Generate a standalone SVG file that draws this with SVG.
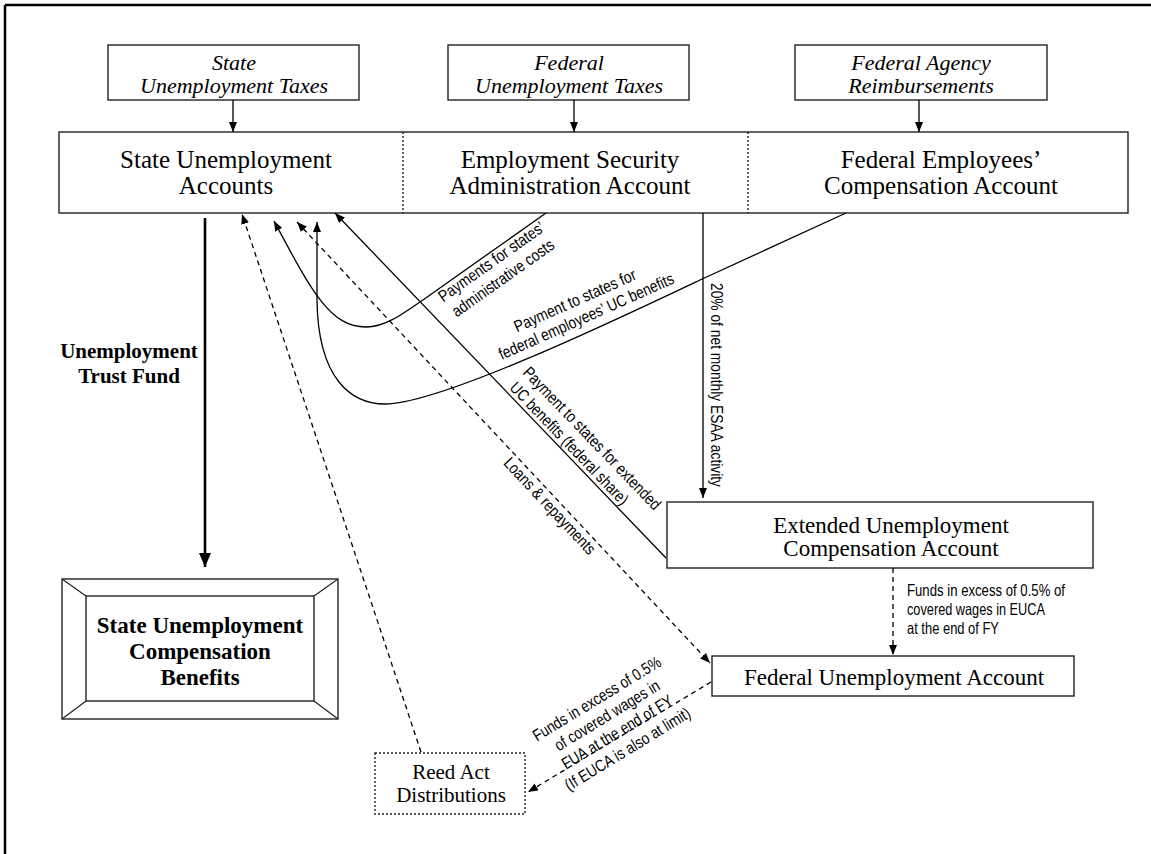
<svg xmlns="http://www.w3.org/2000/svg" width="1151" height="854" viewBox="0 0 1151 854">
<style>
.box{fill:#fff;stroke:#222;stroke-width:1.4}
.ln{fill:none;stroke:#000;stroke-width:1.3}
.dash{fill:none;stroke:#000;stroke-width:1.3;stroke-dasharray:5,4}
.dot{fill:none;stroke:#222;stroke-width:1.4;stroke-dasharray:2,2}
.serif{font-family:"Liberation Serif","Times New Roman",serif;fill:#000}
.ital{font-family:"Liberation Serif","Times New Roman",serif;font-style:italic;font-size:22px;fill:#000}
.bold{font-family:"Liberation Serif","Times New Roman",serif;font-weight:bold;fill:#000}
.lbl{font-family:"Liberation Sans Narrow","Liberation Sans",Arial,sans-serif;font-size:16.5px;fill:#000}
</style>
<defs>
<marker id="ah" viewBox="0 0 10 8" refX="10" refY="4" markerWidth="10" markerHeight="8" markerUnits="userSpaceOnUse" orient="auto-start-reverse"><path d="M0,0 L10,4 L0,8 z" fill="#000"/></marker>
<marker id="ahBig" viewBox="0 0 14 12" refX="14" refY="6" markerWidth="14" markerHeight="12" markerUnits="userSpaceOnUse" orient="auto"><path d="M0,0 L14,6 L0,12 z" fill="#000"/></marker>
</defs>
<rect x="0" y="0" width="1151" height="854" fill="#fff"/>
<g id="frame"><path d="M5,5 H1151 M5,5 V854" fill="none" stroke="#000" stroke-width="2.5"/></g>

<g id="src-state">
<rect class="box" x="108" y="45" width="251" height="55"/>
<text class="ital" x="234" y="70" text-anchor="middle">State</text>
<text class="ital" x="234" y="93" text-anchor="middle">Unemployment Taxes</text>
</g>
<g id="src-federal">
<rect class="box" x="448" y="45" width="241" height="55"/>
<text class="ital" x="569" y="70" text-anchor="middle">Federal</text>
<text class="ital" x="569" y="93" text-anchor="middle">Unemployment Taxes</text>
</g>
<g id="src-agency">
<rect class="box" x="795" y="45" width="252" height="55"/>
<text class="ital" x="921" y="70" text-anchor="middle">Federal Agency</text>
<text class="ital" x="921" y="93" text-anchor="middle">Reimbursements</text>
</g>

<g id="trust-accounts">
<rect class="box" x="59" y="132" width="1069" height="81"/>
<line class="dot" x1="403" y1="132" x2="403" y2="213"/>
<line class="dot" x1="748" y1="132" x2="748" y2="213"/>
<text class="serif" font-size="25" x="226" y="168" text-anchor="middle">State Unemployment</text>
<text class="serif" font-size="25" x="226" y="194" text-anchor="middle">Accounts</text>
<text class="serif" font-size="25" x="570" y="168" text-anchor="middle">Employment Security</text>
<text class="serif" font-size="25" x="570" y="194" text-anchor="middle">Administration Account</text>
<text class="serif" font-size="25" x="941" y="168" text-anchor="middle">Federal Employees’</text>
<text class="serif" font-size="25" x="941" y="194" text-anchor="middle">Compensation Account</text>
</g>

<g id="utf-label">
<text class="bold" font-size="21" x="129" y="358" text-anchor="middle">Unemployment</text>
<text class="bold" font-size="21" x="129" y="383" text-anchor="middle">Trust Fund</text>
</g>

<g id="benefits">
<rect x="62" y="579" width="276" height="140" fill="#fff" stroke="#222" stroke-width="1.4"/>
<rect x="86" y="596" width="228" height="105" fill="none" stroke="#222" stroke-width="1.4"/>
<path d="M62,579 L86,596 M338,579 L314,596 M62,719 L86,701 M338,719 L314,701" fill="none" stroke="#222" stroke-width="1.2"/>
<text class="bold" font-size="23" x="200" y="633" text-anchor="middle">State Unemployment</text>
<text class="bold" font-size="23" x="200" y="659" text-anchor="middle">Compensation</text>
<text class="bold" font-size="23" x="200" y="685" text-anchor="middle">Benefits</text>
</g>

<g id="euca">
<rect class="box" x="667" y="502" width="426" height="66"/>
<text class="serif" font-size="23" x="891" y="533" text-anchor="middle">Extended Unemployment</text>
<text class="serif" font-size="23" x="891" y="556" text-anchor="middle">Compensation Account</text>
</g>

<g id="fua">
<rect class="box" x="712" y="656" width="362" height="40"/>
<text class="serif" font-size="23" x="894" y="685" text-anchor="middle">Federal Unemployment Account</text>
</g>

<g id="reed">
<rect class="dot" x="375" y="753" width="150" height="61" fill="#fff"/>
<text class="serif" font-size="21" x="451" y="779" text-anchor="middle">Reed Act</text>
<text class="serif" font-size="21" x="451" y="802" text-anchor="middle">Distributions</text>
</g>

<g id="connectors">
<line class="ln" x1="233" y1="100" x2="233" y2="132" marker-end="url(#ah)"/>
<line class="ln" x1="574" y1="100" x2="574" y2="132" marker-end="url(#ah)"/>
<line class="ln" x1="919" y1="100" x2="919" y2="132" marker-end="url(#ah)"/>
<line x1="205" y1="218" x2="205" y2="567" stroke="#000" stroke-width="2.6" marker-end="url(#ahBig)"/>
<path class="ln" d="M546,213 L430,295 C400,316 385,327 366,327 C330,327 312,292 274,221" marker-end="url(#ah)"/>
<path class="ln" d="M846,213 L700,280 C620,318 440,404 385,404 C352,404 318,380 317,300 L317,222" marker-end="url(#ah)"/>
<line class="ln" x1="666" y1="558" x2="335" y2="213" marker-end="url(#ah)"/>
<line class="ln" x1="703" y1="213" x2="703" y2="498" marker-end="url(#ah)"/>
<line class="dash" x1="297" y1="222" x2="710" y2="663" marker-start="url(#ah)" marker-end="url(#ah)"/>
<line class="dash" x1="421" y1="752" x2="242" y2="214" marker-end="url(#ah)"/>
<line class="dash" x1="893" y1="568" x2="893" y2="655" marker-end="url(#ah)"/>
<line class="dash" x1="711" y1="682" x2="528" y2="792" marker-end="url(#ah)"/>
</g>

<g id="labels">
<g transform="translate(540,217) rotate(-35.3)">
<text class="lbl" x="-65.5" y="14" text-anchor="middle" textLength="126" lengthAdjust="spacingAndGlyphs">Payments for states’</text>
<text class="lbl" x="-65.5" y="34" text-anchor="middle" textLength="121" lengthAdjust="spacingAndGlyphs">administrative costs</text>
</g>
<g transform="translate(490,373) rotate(-24)">
<text class="lbl" x="107" y="-26" text-anchor="middle" textLength="132" lengthAdjust="spacingAndGlyphs">Payment to states for</text>
<text class="lbl" x="111" y="-7" text-anchor="middle" textLength="190" lengthAdjust="spacingAndGlyphs">federal employees’ UC benefits</text>
</g>
<g transform="translate(335,213) rotate(46.2)">
<text class="lbl" x="245" y="-24" textLength="191" lengthAdjust="spacingAndGlyphs">Payment to states for extended</text>
<text class="lbl" x="247" y="-4" textLength="163" lengthAdjust="spacingAndGlyphs">UC benefits (federal share)</text>
</g>
<g transform="translate(297,222) rotate(46.9)">
<text class="lbl" x="317" y="15" textLength="126" lengthAdjust="spacingAndGlyphs">Loans &amp; repayments</text>
</g>
<text class="lbl" transform="translate(711,385) rotate(90)" x="0" y="0" text-anchor="middle" textLength="204" lengthAdjust="spacingAndGlyphs">20% of net monthly ESAA activity</text>
<text class="lbl" x="907" y="596" textLength="158" lengthAdjust="spacingAndGlyphs">Funds in excess of 0.5% of</text>
<text class="lbl" x="907" y="615" textLength="138" lengthAdjust="spacingAndGlyphs">covered wages in EUCA</text>
<text class="lbl" x="907" y="634" textLength="92" lengthAdjust="spacingAndGlyphs">at the end of FY</text>
<g transform="translate(617,737.5) rotate(-31.4)">
<text class="lbl" x="3" y="-38" text-anchor="middle" textLength="147" lengthAdjust="spacingAndGlyphs">Funds in excess of 0.5%</text>
<text class="lbl" x="3" y="-18.5" text-anchor="middle" textLength="120" lengthAdjust="spacingAndGlyphs">of covered wages in</text>
<text class="lbl" x="3" y="1" text-anchor="middle" textLength="127" lengthAdjust="spacingAndGlyphs">FUA at the end of FY</text>
<text class="lbl" x="3" y="21" text-anchor="middle" textLength="144" lengthAdjust="spacingAndGlyphs">(If EUCA is also at limit)</text>
</g>
</g>
</svg>
